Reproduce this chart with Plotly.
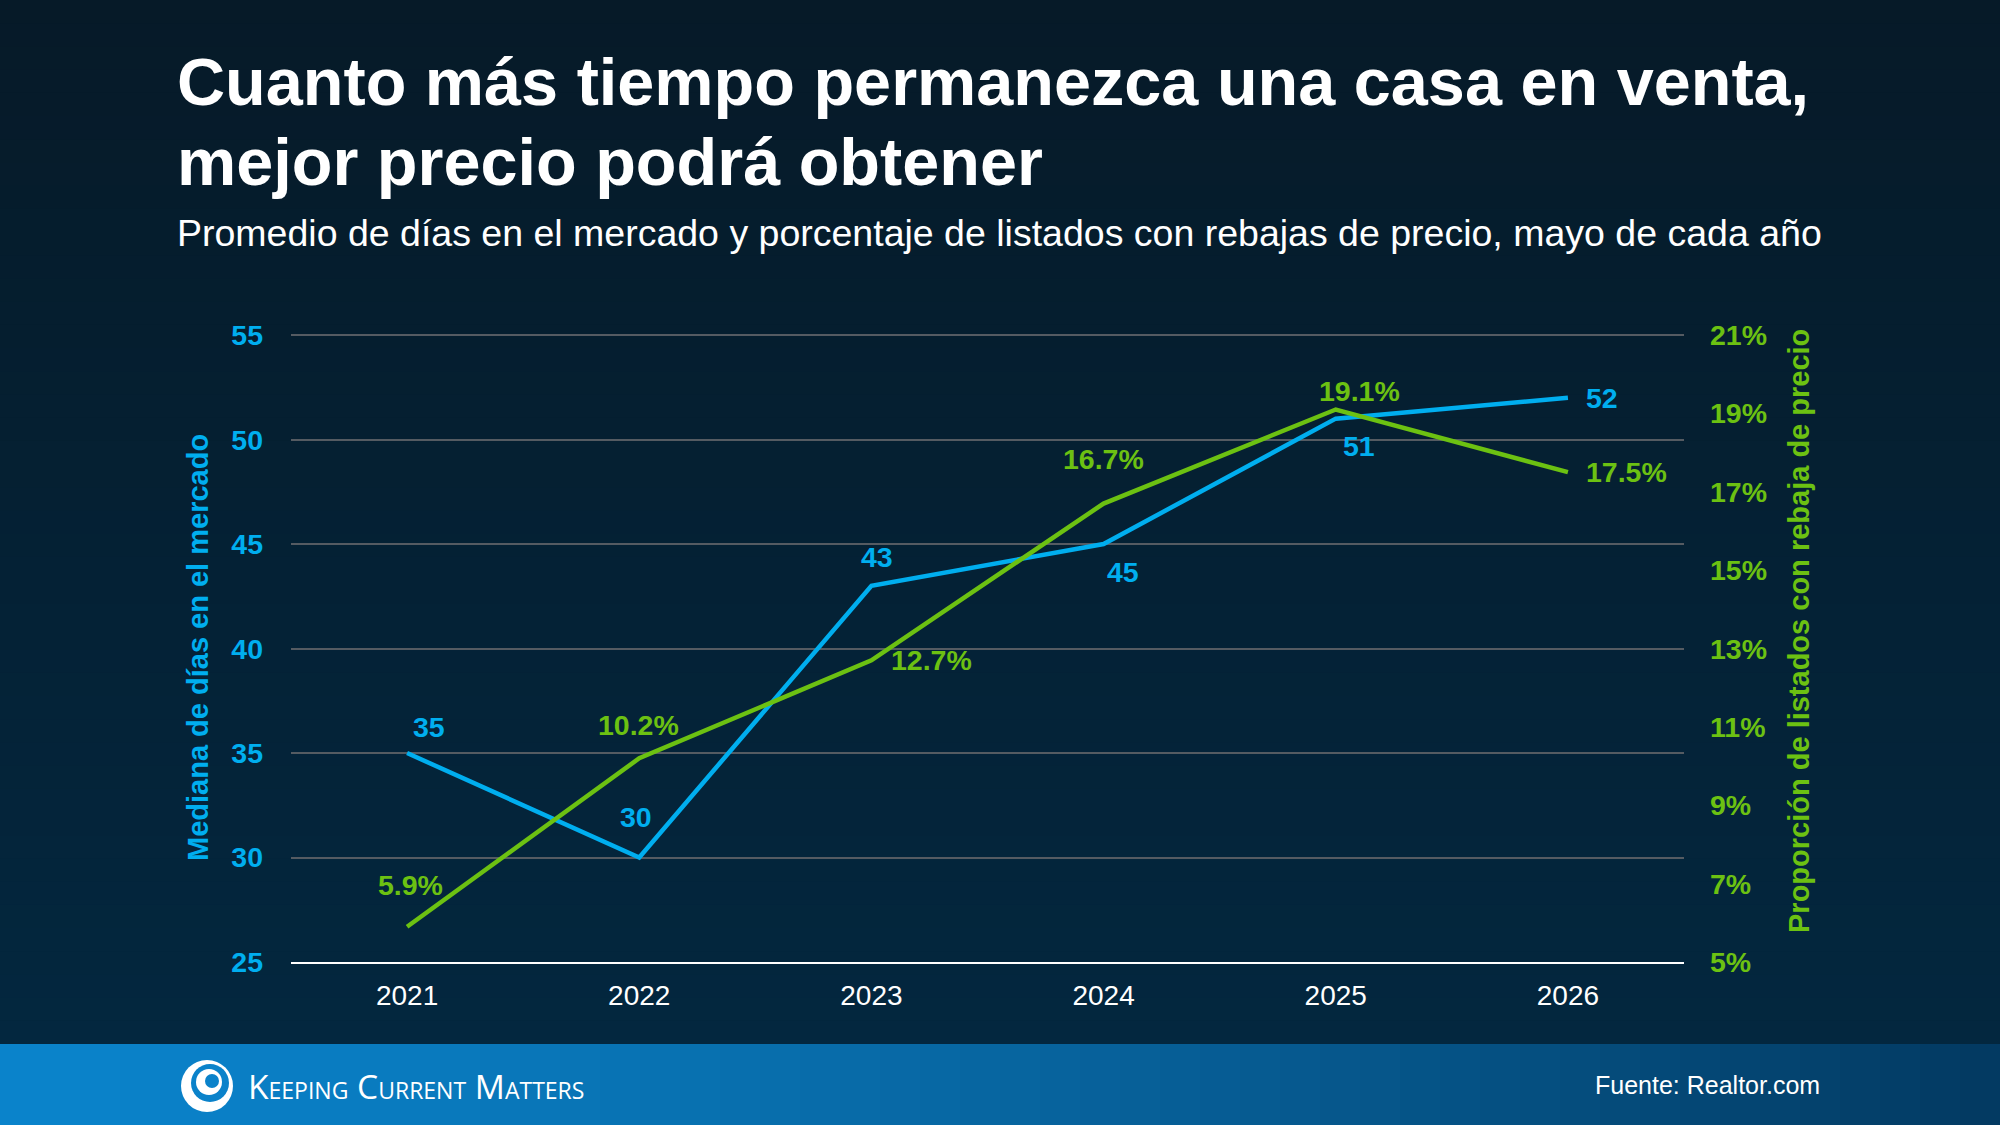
import plotly.graph_objects as go

years = ["2021", "2022", "2023", "2024", "2025", "2026"]
days_on_market = [35, 30, 43, 45, 51, 52]
pct_reduced = [5.9, 10.2, 12.7, 16.7, 19.1, 17.5]
days_labels = ["35", "30", "43", "45", "51", "52"]
pct_labels = ["5.9%", "10.2%", "12.7%", "16.7%", "19.1%", "17.5%"]
left_ticks = [25, 30, 35, 40, 45, 50, 55]
right_ticks = [5, 7, 9, 11, 13, 15, 17, 19, 21]
right_tick_text = [f"{v}%" for v in right_ticks]

xpos = list(range(len(years)))

W, H = 2000, 1125
PL, PR, PT, PB = 291, 1684, 334, 962
BLUE = "#00AEEF"
GREEN = "#6CC112"
FONT = "Liberation Sans, Arial, sans-serif"


def px(x):
    return (x - PL) / (PR - PL)


def py(y):
    return (PB - y) / (PB - PT)


def lerp(c1, c2, t):
    a = [int(c1[i:i + 2], 16) for i in (1, 3, 5)]
    b = [int(c2[i:i + 2], 16) for i in (1, 3, 5)]
    return "#" + "".join(f"{round(a[k] + (b[k] - a[k]) * t):02x}" for k in range(3))


fig = go.Figure()
fig.add_trace(go.Scatter(x=xpos, y=days_on_market, mode="lines",
                         line=dict(color=BLUE, width=4.5), yaxis="y", hoverinfo="skip"))
fig.add_trace(go.Scatter(x=xpos, y=pct_reduced, mode="lines",
                         line=dict(color=GREEN, width=4.5), yaxis="y2", hoverinfo="skip"))

shapes = []
# background vertical gradient
N = 45
FOOT = 1044
for i in range(N):
    y0 = FOOT * i / N
    y1 = FOOT * (i + 1) / N + 1
    shapes.append(dict(type="rect", xref="paper", yref="paper", layer="below",
                       x0=px(0), x1=px(W), y0=py(y1), y1=py(y0), line=dict(width=0),
                       fillcolor=lerp("#061a28", "#03273f", i / (N - 1))))
# footer gradient
M = 50
for i in range(M):
    x0 = W * i / M
    x1 = W * (i + 1) / M + 1
    t = i / (M - 1)
    shapes.append(dict(type="rect", xref="paper", yref="paper", layer="below",
                       x0=px(x0), x1=px(x1), y0=py(H), y1=py(FOOT), line=dict(width=0),
                       fillcolor=lerp("#0a83cb", "#033a62", t ** 1.3)))


def circ(cx, cy, r, color):
    return dict(type="circle", xref="paper", yref="paper", layer="above",
                x0=px(cx - r), x1=px(cx + r), y0=py(cy + r), y1=py(cy - r),
                fillcolor=color, line=dict(width=0))


shapes += [circ(207, 1086, 26, "white"), circ(210, 1083, 19, "#0a82ca"),
           circ(209, 1082, 13, "white"), circ(212, 1081, 7, "#0a82ca")]

annotations = []
# titles
annotations.append(dict(text="<b>Cuanto más tiempo permanezca una casa en venta,</b>",
                        x=px(175), y=py(82), xanchor="left", yanchor="middle",
                        font=dict(family=FONT, size=66.6, color="white")))
annotations.append(dict(text="<b>mejor precio podrá obtener</b>",
                        x=px(175), y=py(162), xanchor="left", yanchor="middle",
                        font=dict(family=FONT, size=66.6, color="white")))
annotations.append(dict(text="Promedio de días en el mercado y porcentaje de listados con rebajas de precio, mayo de cada año",
                        x=px(175), y=py(233), xanchor="left", yanchor="middle",
                        font=dict(family=FONT, size=37.5, color="white")))
# axis titles
annotations.append(dict(text="<b>Mediana de días en el mercado</b>", textangle=-90,
                        x=px(198), y=py(648), xanchor="center", yanchor="middle",
                        font=dict(family=FONT, size=29, color=BLUE)))
annotations.append(dict(text="<b>Proporción de listados con rebaja de precio</b>", textangle=-90,
                        x=px(1799), y=py(631), xanchor="center", yanchor="middle",
                        font=dict(family=FONT, size=29, color=GREEN)))
# footer
annotations.append(dict(text="Keeping Current Matters",
                        x=px(246), y=py(1086), xanchor="left", yanchor="middle",
                        font=dict(family="Open Sans, sans-serif", size=33.5, color="white",
                                  variant="small-caps")))
annotations.append(dict(text="Fuente: Realtor.com",
                        x=px(1822), y=py(1085), xanchor="right", yanchor="middle",
                        font=dict(family=FONT, size=25, color="white")))

# data labels
blue_off = [(22, 26, "center"), (-3, 41, "center"), (6, 29, "center"),
            (19, -28, "center"), (23, -27, "center"), (16, 0, "left")]
green_off = [(3, 42, "center"), (-1, 33, "center"), (18, 0, "left"),
             (0, 45, "center"), (24, 19, "center"), (16, 0, "left")]
for i in range(len(years)):
    dx, dy, anc = blue_off[i]
    annotations.append(dict(text=f"<b>{days_labels[i]}</b>", x=xpos[i], y=days_on_market[i],
                            xref="x", yref="y", showarrow=False, xanchor=anc, yanchor="middle",
                            xshift=dx, yshift=dy,
                            font=dict(family=FONT, size=28.5, color=BLUE)))
    dx, dy, anc = green_off[i]
    annotations.append(dict(text=f"<b>{pct_labels[i]}</b>", x=xpos[i], y=pct_reduced[i],
                            xref="x", yref="y2", showarrow=False, xanchor=anc, yanchor="middle",
                            xshift=dx, yshift=dy,
                            font=dict(family=FONT, size=28.5, color=GREEN)))

for a in annotations:
    a.setdefault("xref", "paper")
    a.setdefault("yref", "paper")
    a.setdefault("showarrow", False)

fig.update_layout(
    width=W, height=H,
    margin=dict(l=PL, r=W - PR, t=PT, b=H - PB, pad=0),
    paper_bgcolor="#04212f", plot_bgcolor="rgba(0,0,0,0)",
    showlegend=False,
    shapes=shapes, annotations=annotations,
    xaxis=dict(range=[-0.5, 5.5], tickvals=xpos, ticktext=years,
               showgrid=False, zeroline=False,
               showline=True, linecolor="white", linewidth=2,
               tickfont=dict(family=FONT, size=28, color="white"),
               ticks="", ticklabelstandoff=7, fixedrange=True),
    yaxis=dict(range=[25, 55.05], tickvals=left_ticks, showgrid=True, gridcolor="#555b62",
               gridwidth=1.5, zeroline=False, showline=False, ticks="",
               tickfont=dict(family=FONT, size=28.5, color=BLUE, weight="bold"),
               ticklabelstandoff=27, fixedrange=True),
    yaxis2=dict(range=[5, 21.027], tickvals=right_ticks, ticktext=right_tick_text,
                overlaying="y", side="right", showgrid=False, zeroline=False,
                showline=False, ticks="",
                tickfont=dict(family=FONT, size=28.5, color=GREEN, weight="bold"),
                ticklabelstandoff=25, fixedrange=True),
)

fig.write_html("out.html", config={"displayModeBar": False})
